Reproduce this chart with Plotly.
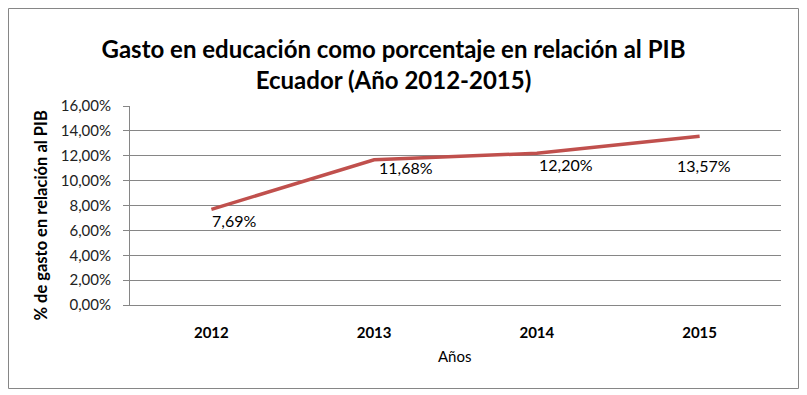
import plotly.graph_objects as go

years = ["2012", "2013", "2014", "2015"]
gasto = [7.69, 11.68, 12.20, 13.57]
labels = ["7,69%", "11,68%", "12,20%", "13,57%"]
ytick_vals = [0, 2, 4, 6, 8, 10, 12, 14, 16]
ytick_text = ["0,00%", "2,00%", "4,00%", "6,00%", "8,00%", "10,00%", "12,00%", "14,00%", "16,00%"]

# label offsets in px (style)
lab_xshift = [-1, 3, 0, -25]
lab_yshift = [-11, -8, -11, -29]

FONT = "Lato, 'Open Sans', sans-serif"
GRAY = "#868686"
W, H = 799, 387
L, R, T, B = 122, 26, 98, 90
pw, ph = W - L - R, H - T - B

def px_x(px):
    return (px - L) / pw

def px_y(py):
    return (H - B - py) / ph

fig = go.Figure()
fig.add_trace(go.Scatter(
    x=years, y=gasto, mode="lines",
    line=dict(color="#C0504D", width=3.5),
    hoverinfo="skip", showlegend=False,
))

for i, (v, t, dx, dy) in enumerate(zip(gasto, labels, lab_xshift, lab_yshift)):
    fig.add_annotation(x=i, y=v, xref="x", yref="y", text=t, showarrow=False,
                       xanchor="left", yanchor="middle", xshift=dx, yshift=dy,
                       font=dict(family=FONT, size=16, color="#000"))

# axis titles
fig.add_annotation(xref="paper", yref="paper", x=px_x(32), y=px_y(207.5),
                   text="<b>% de gasto en relación al PIB</b>", textangle=-90,
                   showarrow=False, xanchor="center", yanchor="middle",
                   font=dict(family=FONT, size=16.5, color="#000"))
fig.add_annotation(xref="paper", yref="paper", x=px_x(447), y=px_y(348),
                   text="Años", showarrow=False, xanchor="center", yanchor="middle",
                   font=dict(family=FONT, size=15, color="#000"))

fig.add_shape(type="rect", xref="paper", yref="paper",
              x0=px_x(0.5), x1=px_x(790.5),
              y0=px_y(380.5), y1=px_y(0.5),
              line=dict(color=GRAY, width=1), fillcolor="rgba(0,0,0,0)", layer="below")

fig.update_layout(
    width=W, height=H,
    margin=dict(l=L, r=R, t=T, b=B),
    paper_bgcolor="white", plot_bgcolor="white",
    title=dict(text="<b>Gasto en educación como porcentaje en relación al PIB<br>Ecuador (Año 2012-2015)</b>",
               x=385.5 / W, xanchor="center", xref="container",
               y=1 - 50 / H, yanchor="middle", yref="container",
               font=dict(family=FONT, size=24, color="#000")),
    font=dict(family=FONT, color="#000"),
    xaxis=dict(
        type="category", range=[-0.5, 3.5],
        showgrid=False, showline=True, linecolor=GRAY, linewidth=1,
        ticks="", ticklabelstandoff=14,
        tickfont=dict(family=FONT, size=15, color="#000", weight="bold"),
        fixedrange=True,
    ),
    yaxis=dict(
        range=[0, 16], tickvals=ytick_vals, ticktext=ytick_text,
        showgrid=True, gridcolor=GRAY, gridwidth=1,
        showline=True, linecolor=GRAY, linewidth=1,
        ticks="outside", ticklen=6, tickcolor=GRAY, ticklabelstandoff=9,
        tickfont=dict(family=FONT, size=15, color="#222"),
        zeroline=False, fixedrange=True,
    ),
)

fig.write_html("out.html")
